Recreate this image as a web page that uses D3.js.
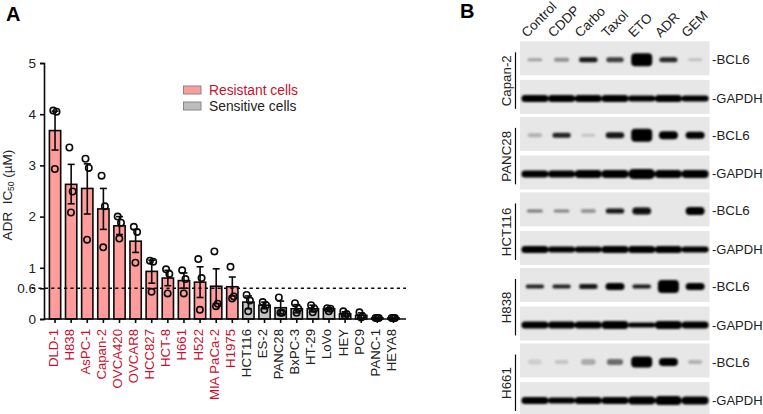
<!DOCTYPE html>
<html><head><meta charset="utf-8">
<script src="https://cdnjs.cloudflare.com/ajax/libs/d3/7.8.5/d3.min.js"></script>
<style>html,body{margin:0;background:#fff}svg{display:block}text{font-family:"Liberation Sans",Arial,sans-serif}</style>
</head><body><svg id="c" width="763" height="414"></svg>
<script>
const cellLines=["DLD-1","H838","AsPC-1","Capan-2","OVCA420","OVCAR8","HCC827","HCT-8","H661","H522","MIA PaCa-2","H1975","HCT116","ES-2","PANC28","BxPC-3","HT-29","LoVo","HEY","PC9","PANC-1","HEYA8"];
const resistantCount=12;
const means=[3.68,2.63,2.55,2.15,1.82,1.52,.93,.8,.75,.72,.64,.63,.33,.27,.22,.2,.2,.2,.1,.07,.02,.02];
const errLow=[3.3,2.25,2.05,1.75,1.65,1.3,.7,.65,.6,.42,.3,.45,.2,.2,.1,.12,.14,.15,.06,.02,.01,.01];
const errHigh=[4.06,3.02,3.03,2.55,2.0,1.75,1.15,.95,.9,1.02,.98,.82,.45,.33,.35,.28,.27,.22,.14,.12,.03,.03];
const repA=[4.07,3.35,3.13,2.8,2.0,1.8,1.14,.97,.95,1.17,1.32,1.02,.47,.33,.42,.31,.27,.21,.15,.13,.02,.02];
const repB=[4.05,2.49,2.95,2.2,1.88,1.7,1.12,.88,.78,.8,.3,.44,.36,.27,.12,.2,.2,.2,.1,.05,.02,.02];
const repC=[2.93,2.08,1.55,1.4,1.57,1.1,.53,.5,.5,.18,.25,.4,.15,.18,.12,.12,.13,.15,.07,.03,.02,.02];
const yTicks=[0,.6,1,2,3,4,5];
const drugs=["Control","CDDP","Carbo","Taxol","ETO","ADR","GEM"];
const blotLines=["Capan-2","PANC28","HCT116","H838","H661"];
const bcl6Strength=[[.3,.38,.92,.75,1,.85,.14],[.22,.88,.12,.92,1,1,1],[.5,.45,.35,.92,.97,0,1],[.88,.88,.92,1,.92,1,1],[.08,.12,.25,.55,1,1,.22]];
const bcl6Thick=[[3,4,5,5,13,5,3],[4,5,3,6,13,8,7],[3,3,4,5,7,0,8],[4,4,5,7,4,13,7],[5,4,6,6,11,8,4]];
const gapdhThick=[[6,6,6,6,5,6,5],[6,6,7,7,9,7,7],[6,5,5,6,6,6,5],[6,6,6,7,4,7,6],[6,5,6,6,7,8,7]];

const svg=d3.select("#c");
svg.append("defs").append("filter").attr("id","blur").attr("x","-30%").attr("y","-100%").attr("width","160%").attr("height","300%")
  .append("feGaussianBlur").attr("stdDeviation",.9);

// Panel A
const y=d3.scaleLinear().domain([0,5]).range([319,63]);
const x=d3.scaleBand().domain(cellLines).range([46.5,402]).paddingInner(.3).paddingOuter(.18);
const cx=d=>x(d)+x.bandwidth()/2;
const ink="#0a0a0a";
const red="#c8102e";
const sw=1.6;
const isRes=i=>i<resistantCount;

svg.append("g").selectAll("rect").data(cellLines).join("rect")
  .attr("x",d=>x(d)).attr("width",x.bandwidth())
  .attr("y",(d,i)=>y(means[i])).attr("height",(d,i)=>y(0)-y(means[i]))
  .attr("fill",(d,i)=>isRes(i)?"#ff9c9c":"#c4c4c4").attr("stroke",ink).attr("stroke-width",sw);

const eb=svg.append("g").attr("stroke",ink).attr("stroke-width",sw).attr("fill","none");
cellLines.forEach((d,i)=>{
  const c=cx(d);
  eb.append("line").attr("x1",c).attr("x2",c).attr("y1",y(errLow[i])).attr("y2",y(errHigh[i]));
  [errLow[i],errHigh[i]].forEach(v=>eb.append("line").attr("x1",c-3.5).attr("x2",c+3.5).attr("y1",y(v)).attr("y2",y(v)));
});

const jitterSteps=[-1.8,1.5,-.2];
const pts=svg.append("g").attr("fill","none").attr("stroke",ink).attr("stroke-width",sw);
cellLines.forEach((d,i)=>{
  [repA[i],repB[i],repC[i]].forEach((v,k)=>{
    pts.append("circle").attr("cx",cx(d)+jitterSteps[k]).attr("cy",y(v)).attr("r",3.2);
  });
});

svg.append("line").attr("x1",32).attr("x2",406).attr("y1",y(.6)).attr("y2",y(.6))
  .attr("stroke",ink).attr("stroke-width",1.4).attr("stroke-dasharray","3.2 3.2");

const yAxis=svg.append("g").attr("transform","translate(44,0)")
  .call(d3.axisLeft(y).tickValues(yTicks).tickFormat(d=>d===.6?"0.6":d).tickSize(4).tickPadding(4));
yAxis.selectAll("path,line").attr("stroke",ink).attr("stroke-width",sw);
yAxis.selectAll("text").attr("font-size",13.5).attr("fill","#222");

const xAxis=svg.append("g").attr("transform","translate(0,319)")
  .call(d3.axisBottom(x).tickSize(4).tickPadding(4));
xAxis.selectAll("path,line").attr("stroke",ink).attr("stroke-width",sw);
xAxis.select("path").attr("d","M44,0H406");
xAxis.selectAll("text").attr("font-size",13.2).attr("text-anchor","end").attr("dy",0)
  .attr("fill",(d,i)=>isRes(i)?red:"#222")
  .attr("transform","translate(2.5,10) rotate(-90)").attr("x",0).attr("y",0);

const yt=svg.append("text").attr("transform","translate(12,195) rotate(-90)").attr("text-anchor","middle").attr("font-size",13.5).attr("fill","#222");
yt.append("tspan").text("ADR\u00a0 IC");
yt.append("tspan").text("50").attr("font-size",8.5).attr("dy",2);
yt.append("tspan").text(" (µM)").attr("dy",-2);

[["Resistant cells","#ff9c9c",red],["Sensitive cells","#bdbdbd","#222"]].forEach((l,i)=>{
  const yy=86+i*16;
  svg.append("rect").attr("x",183.5).attr("y",yy).attr("width",17.5).attr("height",8).attr("fill",l[1]).attr("stroke","#888").attr("stroke-width",1);
  svg.append("text").attr("x",209).attr("y",yy+9).attr("font-size",13.8).attr("fill",l[2]).text(l[0]);
});
svg.append("text").attr("x",6).attr("y",21).attr("font-size",20).attr("font-weight","bold").attr("fill","#000").text("A");
svg.append("text").attr("x",460).attr("y",18).attr("font-size",20).attr("font-weight","bold").attr("fill","#000").text("B");

// Panel B
const lane=d3.scaleBand().domain(drugs).range([521,709]).paddingInner(0).paddingOuter(.02);
const laneC=d=>lane(d)+lane.bandwidth()/2;
const panel=d3.scalePoint().domain(blotLines).range([41.3,343.5]);
const blotH=34, gapOffset=38.6;
const gray=d3.scaleLinear().domain([0,.5,1]).range(["#dcdcdc","#777","#050505"]);
const bandW=d3.scaleLinear().domain([0,1]).range([13,19]);

drugs.forEach(d=>svg.append("text")
  .attr("transform",`translate(${laneC(d)-8},38) rotate(-45)`).attr("font-size",13.4).attr("fill","#222").text(d));

blotLines.forEach((name,p)=>{
  const t=panel(name);
  [0,gapOffset].forEach(off=>svg.append("rect").attr("x",520).attr("y",t+off).attr("width",189.5).attr("height",blotH).attr("fill","#e7e7e7"));
  const g=svg.append("g").attr("filter","url(#blur)");
  drugs.forEach((d,j)=>{
    const s=bcl6Strength[p][j], h=bcl6Thick[p][j];
    if(s>0){
      const w=bandW(s)+(h>9?2:0);
      g.append("rect").attr("x",laneC(d)-w/2).attr("y",t+18.5-h/2).attr("width",w).attr("height",h)
        .attr("rx",Math.min(h/2,4)).attr("fill",gray(s));
    }
    const gh=gapdhThick[p][j]+1;
    g.append("rect").attr("x",laneC(d)-13.5).attr("y",t+gapOffset+18.5-gh/2).attr("width",27).attr("height",gh)
      .attr("rx",gh/2).attr("fill","#060606");
  });
  svg.append("text").attr("x",712).attr("y",t+23).attr("font-size",13.3).attr("fill","#222").text("-BCL6");
  svg.append("text").attr("x",712).attr("y",t+gapOffset+23).attr("font-size",13).attr("fill","#222").text("-GAPDH");
  svg.append("line").attr("x1",515.5).attr("x2",515.5).attr("y1",t+11).attr("y2",t+67.5).attr("stroke",ink).attr("stroke-width",1.2);
  svg.append("text").attr("transform",`translate(511,${t+39.5}) rotate(-90)`).attr("text-anchor","middle").attr("font-size",13.3).attr("fill","#222").text(name);
});
</script></body></html>
